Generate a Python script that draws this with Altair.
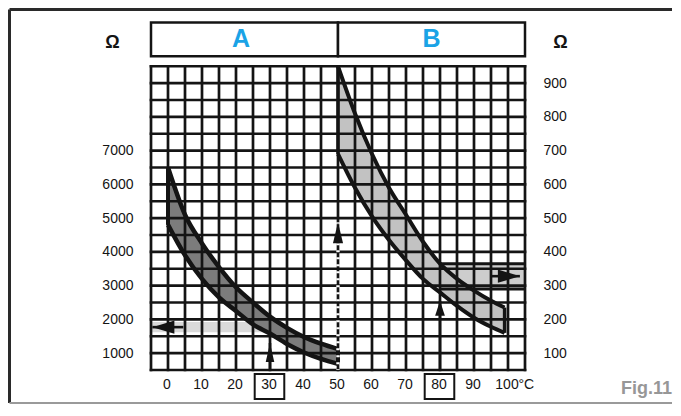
import altair as alt
import pandas as pd

# ---------------- data ----------------
# Panel A: 0-50 degC, resistance in ohm (left axis)
a_temp = [0, 5, 10, 15, 20, 25, 30, 35, 40, 45, 50]
a_upper = [6500, 5100, 4250, 3550, 2950, 2500, 2080, 1750, 1480, 1280, 1120]
a_lower = [4800, 3900, 3200, 2650, 2250, 1850, 1580, 1270, 1020, 830, 680]

# Panel B: 50-100 degC, resistance in ohm (right axis)
b_temp = [50, 55, 60, 65, 70, 75, 80, 85, 90, 95, 99]
b_upper = [950, 810, 690, 590, 510, 430, 365, 320, 285, 255, 235]
b_lower = [690, 590, 505, 435, 375, 320, 280, 240, 205, 178, 160]

# tick labels
temp_ticks = [0, 10, 20, 30, 40, 50, 60, 70, 80, 90, 100]
temp_unit = ["°C"]
temp_unit_at = [100]
a_ticks = [1000, 2000, 3000, 4000, 5000, 6000, 7000]
b_ticks = [100, 200, 300, 400, 500, 600, 700, 800, 900]

# grid lines (every 5 degC, every 500 ohm on the A scale)
grid_temp = list(range(-5, 106, 5))
grid_ohm = list(range(500, 9501, 500))

panel_names = ["A", "B"]
panel_from = [-5, 50]
panel_to = [50, 105]
panel_mid = [21.5, 77.5]

marked_temps = [30, 80]

# reading bands: from degC, to degC, low ohm, high ohm
read_a = [-5, 30, 1620, 1920]
read_b = [80, 105, 290, 365]

# arrows (tip / tail), A in A-ohm, B in B-ohm
a_tip_temp = [30, -4.6]
a_tip_ohm = [1300, 1770]
a_tail_temp = [30, 4.5]
a_tail_ohm = [500, 1770]
dash_tip_temp = [50]
dash_tip_ohm = [4880]
dash_tail_ohm = [500]
b_tip_temp = [80, 103.5]
b_tip_ohm = [255, 328]
b_tail_temp = [80, 95]
b_tail_ohm = [50, 328]

# ---------------- styling ----------------
INK = "#141414"
FONT = "Liberation Sans"
BLUE = "#1aa3e6"
UP_A = "M0,0L0.45,2L-0.45,2Z"
LEFT_A = "M0,0L2,-0.6L2,0.6Z"
UP_DASH = "M0,0L0.48,2L-0.48,2Z"
UP_B = "M0,0L0.65,2L-0.65,2Z"
RIGHT_B = "M0,0L-2,-0.6L-2,0.6Z"

xs = alt.Scale(domain=[-5, 105], nice=False, zero=False)
ys = alt.Scale(domain=[500, 10900], nice=False, zero=False)


def X(f):
    return alt.X(f, type="quantitative", scale=xs, axis=None)


def Y(f):
    return alt.Y(f, type="quantitative", scale=ys, axis=None)


ya_axis = alt.Axis(
    orient="left", values=a_ticks, format="d", ticks=False, domain=False, grid=False,
    labelFont=FONT, labelFontSize=14, labelColor=INK, labelPadding=18,
    title="Ω", titleAngle=0, titleX=-39, titleY=23, titleAlign="center",
    titleBaseline="middle", titleFont=FONT, titleFontSize=18,
    titleFontWeight="bold", titleColor=INK,
)
yb_axis = alt.Axis(
    orient="right", values=[v * 10 for v in b_ticks],
    labelExpr="format(datum.value / 10, 'd')", ticks=False, domain=False, grid=False,
    labelFont=FONT, labelFontSize=14, labelColor=INK, labelPadding=18,
    title="Ω", titleAngle=0, titleX=35, titleY=23, titleAlign="center",
    titleBaseline="middle", titleFont=FONT, titleFontSize=18,
    titleFontWeight="bold", titleColor=INK,
)

# ---------------- data frames ----------------
band_a = pd.DataFrame({"t": a_temp, "hi": a_upper, "lo": a_lower})
band_b = pd.DataFrame({"t": b_temp, "hi": b_upper, "lo": b_lower})
lines_a = pd.DataFrame({"t": a_temp * 2, "ohm": a_upper + a_lower,
                        "curve": ["u"] * len(a_temp) + ["l"] * len(a_temp)})
lines_b = pd.DataFrame({"t": b_temp * 2, "ohm": b_upper + b_lower,
                        "curve": ["u"] * len(b_temp) + ["l"] * len(b_temp)})
ends_a = pd.DataFrame({"t": [a_temp[0], a_temp[-1]],
                       "hi": [a_upper[0], a_upper[-1]], "lo": [a_lower[0], a_lower[-1]]})
ends_b = pd.DataFrame({"t": [b_temp[0], b_temp[-1]],
                       "hi": [b_upper[0], b_upper[-1]], "lo": [b_lower[0], b_lower[-1]]})
reads = pd.DataFrame({"t0": [read_a[0], read_b[0]], "t1": [read_a[1], read_b[1]],
                      "lo": [read_a[2], read_b[2]], "hi": [read_a[3], read_b[3]],
                      "f": [1, 10], "col": ["#dadada", "#cdcdcd"]})
read_b_edges = pd.DataFrame({"t0": [read_b[0]] * 2, "t1": [read_b[1]] * 2,
                             "ohm": [read_b[2], read_b[3]]})
grid_v_df = pd.DataFrame({"t": grid_temp, "y0": grid_ohm[0], "y1": grid_ohm[-1]})
grid_h_df = pd.DataFrame({"ohm": grid_ohm, "x0": grid_temp[0], "x1": grid_temp[-1]})

stems = pd.DataFrame({
    "t0": a_tip_temp + b_tip_temp, "t1": a_tail_temp + b_tail_temp,
    "o0": a_tip_ohm + b_tip_ohm, "o1": a_tail_ohm + b_tail_ohm,
    "f": [1] * len(a_tip_temp) + [10] * len(b_tip_temp)})
dash_stem = pd.DataFrame({"t": dash_tip_temp, "o0": dash_tip_ohm, "o1": dash_tail_ohm})
heads = pd.DataFrame({
    "t": a_tip_temp + dash_tip_temp + b_tip_temp,
    "ohm": a_tip_ohm + dash_tip_ohm + b_tip_ohm,
    "f": [1, 1, 1, 10, 10],
    "shape": [UP_A, LEFT_A, UP_DASH, UP_B, RIGHT_B],
    "size": [361, 484, 441, 225, 484]})
panels = pd.DataFrame({"name": panel_names, "t0": panel_from, "t1": panel_to,
                       "mid": panel_mid})
marks_df = pd.DataFrame({"t": marked_temps})
ticks_df = pd.DataFrame({"t": temp_ticks})
unit_df = pd.DataFrame({"t": temp_unit_at, "txt": temp_unit})

# ---------------- layers ----------------
read_layer = alt.Chart(reads).transform_calculate(
    lo2="datum.lo * datum.f", hi2="datum.hi * datum.f"
).mark_rect().encode(x=X("t0"), x2="t1", y=Y("lo2"), y2="hi2",
                     color=alt.Color("col:N", scale=None))

area_a = alt.Chart(band_a).mark_area(color="#7c7c7c", interpolate="monotone").encode(
    x=X("t"), y=Y("hi"), y2="lo")
area_b = alt.Chart(band_b).transform_calculate(
    hi2="datum.hi * 10", lo2="datum.lo * 10"
).mark_area(color="#c2c2c2", interpolate="monotone").encode(x=X("t"), y=Y("hi2"), y2="lo2")

grid_v = alt.Chart(grid_v_df).mark_rule(color=INK, strokeWidth=2.7, strokeCap="square").encode(
    x=X("t"), y=alt.Y("y0:Q", scale=ys, axis=ya_axis), y2="y1:Q")
grid_h = alt.Chart(grid_h_df).mark_rule(color=INK, strokeWidth=2.7, strokeCap="square").encode(
    y=alt.Y("ohm:Q", scale=ys, axis=yb_axis), x=X("x0"), x2="x1:Q")

# temperature labels under the grid
tick_txt = alt.Chart(ticks_df).mark_text(
    font=FONT, fontSize=14, color=INK, align="center", baseline="top", dx=-1
).encode(x=X("t"), y=alt.value(359), text=alt.Text("t:Q", format="d"))
unit_txt = alt.Chart(unit_df).mark_text(
    font=FONT, fontSize=14, color=INK, align="left", baseline="top", dx=10.5
).encode(x=X("t"), y=alt.value(359), text="txt:N")

line_a = alt.Chart(lines_a).mark_line(color=INK, strokeWidth=4.5, interpolate="monotone").encode(
    x=X("t"), y=Y("ohm"), detail="curve:N")
end_a = alt.Chart(ends_a).mark_rule(color=INK, strokeWidth=4).encode(
    x=X("t"), y=Y("lo"), y2="hi")
line_b = alt.Chart(lines_b).transform_calculate(o2="datum.ohm * 10").mark_line(
    color=INK, strokeWidth=4, interpolate="monotone").encode(
    x=X("t"), y=Y("o2"), detail="curve:N")
end_b = alt.Chart(ends_b).transform_calculate(
    hi2="datum.hi * 10", lo2="datum.lo * 10"
).mark_rule(color=INK, strokeWidth=3.5).encode(x=X("t"), y=Y("lo2"), y2="hi2")

read_b_lines = alt.Chart(read_b_edges).transform_calculate(o2="datum.ohm * 10").mark_rule(
    color=INK, strokeWidth=3).encode(x=X("t0"), x2="t1", y=Y("o2"))

stem_layer = alt.Chart(stems).transform_calculate(
    y0="datum.o0 * datum.f", y1="datum.o1 * datum.f"
).mark_rule(color=INK, strokeWidth=2.6).encode(x=X("t0"), x2="t1", y=Y("y0"), y2="y1")
# the 50 degC line is dashed below its arrow: cut white gaps into it
dash_layer = alt.Chart(dash_stem).mark_rule(color="white", strokeWidth=3.4, strokeDash=[2, 5]).encode(
    x=X("t"), y=Y("o0"), y2="o1")
head_layer = alt.Chart(heads).transform_calculate(y="datum.ohm * datum.f").mark_point(
    filled=True, opacity=1, color=INK, strokeWidth=0).encode(
    x=X("t"), y=Y("y"), shape=alt.Shape("shape:N", scale=None),
    size=alt.Size("size:Q", scale=None))

header_box = alt.Chart(panels).transform_calculate(y0="9800", y1="10800").mark_rect(
    fill="white", stroke=INK, strokeWidth=2.5).encode(x=X("t0"), x2="t1", y=Y("y0"), y2="y1")
header_txt = alt.Chart(panels).transform_calculate(y="10300").mark_text(
    font=FONT, fontSize=25, fontWeight="bold", color=BLUE, baseline="middle").encode(
    x=X("mid"), y=Y("y"), text="name:N")

label_box = alt.Chart(marks_df).transform_calculate(
    a="datum.t - 4.5", b="datum.t + 4.2"
).mark_rect(fillOpacity=0, stroke=INK, strokeWidth=2).encode(
    x=X("a"), x2="b", y=alt.value(355), y2=alt.value(380))

fig_txt = alt.Chart().mark_text(
    font=FONT, fontSize=18, fontWeight="bold", color="#979797", align="right",
    baseline="alphabetic").encode(x=alt.value(521), y=alt.value(375), text=alt.value("Fig.11"))

frame_top = alt.Chart().mark_rule(color="#2a2a2a", strokeWidth=3).encode(
    x=alt.value(-141.5), x2=alt.value(521), y=alt.value(-9.5))
frame_left = alt.Chart().mark_rule(color="#2a2a2a", strokeWidth=3).encode(
    x=alt.value(-141.5), y=alt.value(-9.5), y2=alt.value(384))
frame_bottom = alt.Chart().mark_rule(color="#9a9a9a", strokeWidth=2).encode(
    x=alt.value(-141.5), x2=alt.value(521), y=alt.value(384))

chart = alt.layer(
    read_layer, area_a, area_b, grid_v, grid_h, tick_txt, unit_txt, line_a, end_a,
    line_b, end_b, read_b_lines, stem_layer, dash_layer, head_layer, header_box,
    header_txt, label_box, fig_txt, frame_top, frame_left, frame_bottom,
).resolve_axis(y="independent").properties(
    width=374, height=351,
    autosize=alt.AutoSizeParams(type="none"),
    padding={"left": 143, "top": 11, "right": 148, "bottom": 34},
    background="white",
).configure_view(stroke=None)

chart.save("out.html", embed_options={"renderer": "svg", "actions": False})
